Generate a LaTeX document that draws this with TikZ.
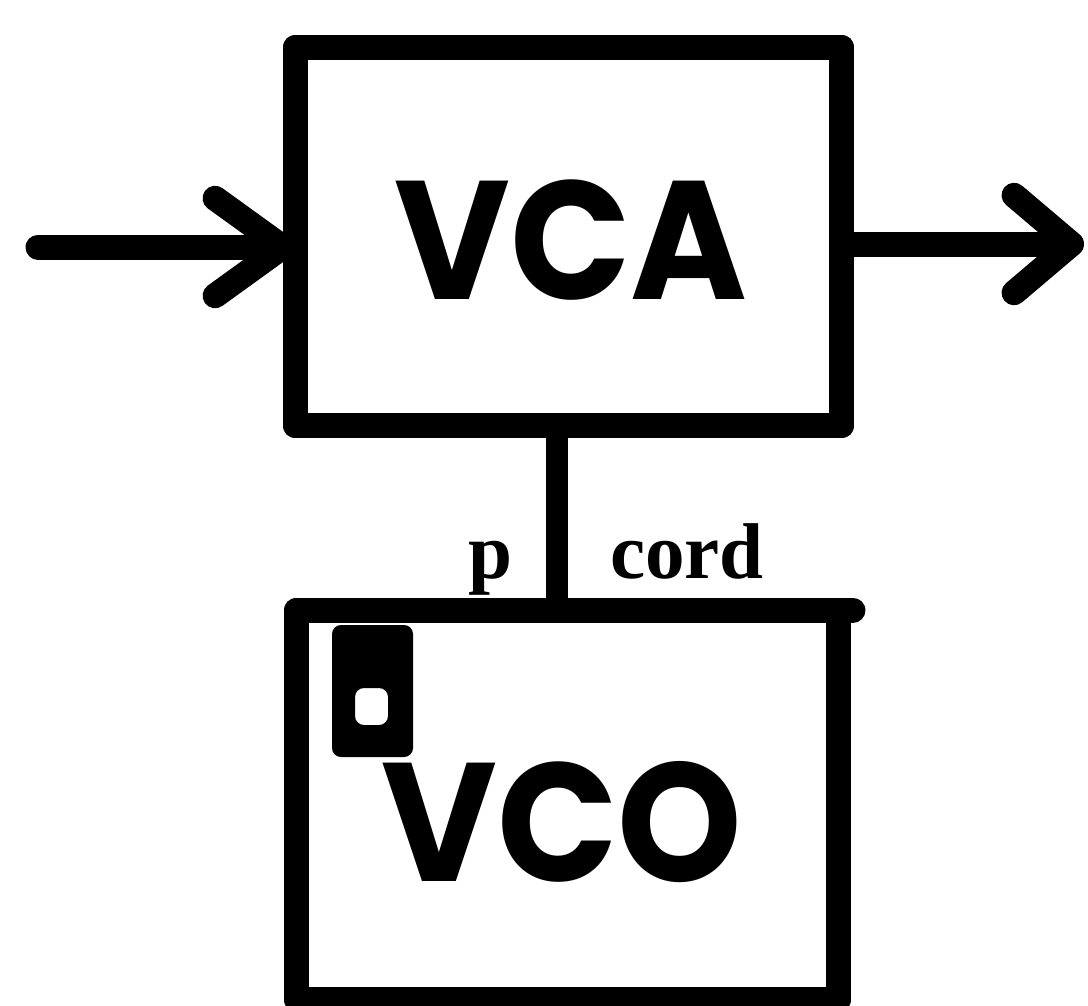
\documentclass[tikz,border=0pt]{standalone}
\usepackage{fontspec}
\newfontfamily\bigfont{Poppins}
\newfontfamily\labfont{Liberation Serif}
\usetikzlibrary{arrows.meta}
\begin{document}
\begin{tikzpicture}[x=0.02cm,y=-0.02cm,
  box/.style={draw, line width=0.5cm, line join=round, inner sep=0pt, outer sep=0pt},
  wire/.style={line width=0.5cm, line cap=round, line join=round},
  big/.style={font=\bigfont\bfseries\fontsize{96}{96}\selectfont, inner sep=0pt, xscale=0.94},
  lab/.style={font=\labfont\bfseries\fontsize{45}{45}\selectfont, inner sep=0pt, anchor=base},
  barbin/.style={-{Straight Barb[length=1.35cm,width=1.95cm,round]}},
  barbout/.style={-{Straight Barb[length=1.15cm,width=1.95cm,round]}}]
\useasboundingbox (0,0) rectangle (1088,1005);
% boxes
\node[box, minimum width=10.94cm, minimum height=7.58cm] (vca) at (568.5,236.5) {};
\node[box, minimum width=10.86cm, minimum height=7.8cm] (vco) at (567.5,805) {};
\draw[wire] (vco.north east) -- ++(14,0);
% texts
\node[big] (vcatext) at (571,240) {VCA};
\node[big] (vcotext) at (562,822) {VCO};
% jack
\fill[even odd rule, rounded corners=0.18cm] (332,625) rectangle (413,757) (355,688) rectangle (388,725);
% connector
\coordinate (cx) at (557,0);
\draw[line width=0.44cm] (vca.south -| cx) -- (vco.north -| cx);
\node[lab] (p) at (490,578) {p};
\node[lab] (cord) at (687,578) {cord};
% arrows
\coordinate (in) at (38,247);
\draw[wire, barbin] (in) -- (vca.west |- in);
\coordinate (out) at (1084,244);
\draw[wire, barbout] (vca.east |- out) -- (out);
\end{tikzpicture}
\end{document}
